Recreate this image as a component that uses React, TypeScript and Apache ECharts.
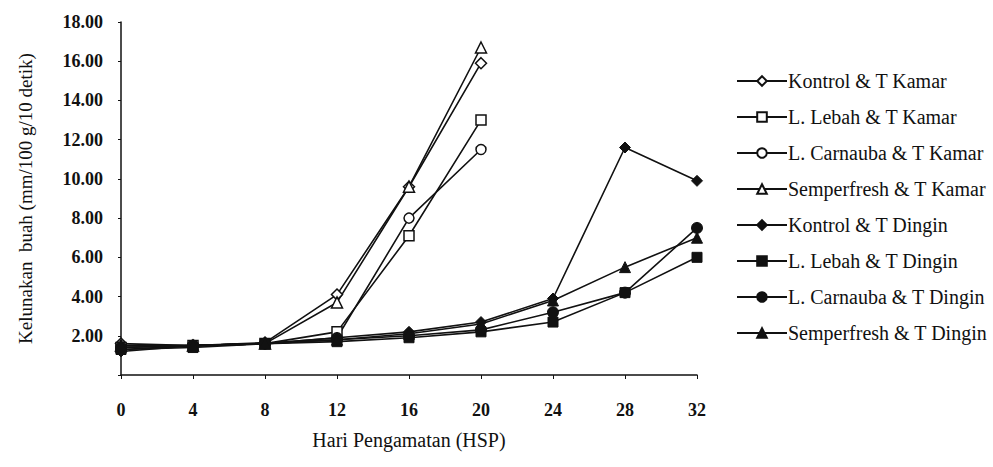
import React, { useEffect, useRef } from "react";
import * as echarts from "echarts";

const days = [0, 4, 8, 12, 16, 20, 24, 28, 32];
const yTicks = [0, 2, 4, 6, 8, 10, 12, 14, 16, 18];

const kontrolKamar = [1.6, 1.5, 1.65, 4.1, 9.6, 15.9];
const lebahKamar = [1.4, 1.5, 1.6, 2.2, 7.1, 13.0];
const carnaubaKamar = [1.3, 1.5, 1.6, 1.9, 8.0, 11.5];
const semperKamar = [1.5, 1.5, 1.6, 3.7, 9.6, 16.7];
const kontrolDingin = [1.2, 1.5, 1.6, 1.9, 2.2, 2.7, 3.9, 11.6, 9.9];
const lebahDingin = [1.3, 1.4, 1.6, 1.7, 1.9, 2.2, 2.7, 4.2, 6.0];
const carnaubaDingin = [1.4, 1.5, 1.6, 1.8, 2.0, 2.3, 3.2, 4.2, 7.5];
const semperDingin = [1.5, 1.5, 1.6, 1.8, 2.1, 2.6, 3.8, 5.5, 7.0];

const seriesDefs = [
  { name: "Kontrol & T Kamar", data: kontrolKamar, symbol: "diamond", open: true, size: 11 },
  { name: "L. Lebah & T Kamar", data: lebahKamar, symbol: "rect", open: true, size: 10 },
  { name: "L. Carnauba & T Kamar", data: carnaubaKamar, symbol: "circle", open: true, size: 10 },
  { name: "Semperfresh & T Kamar", data: semperKamar, symbol: "triangle", open: true, size: 11 },
  { name: "Kontrol & T Dingin", data: kontrolDingin, symbol: "diamond", open: false, size: 11 },
  { name: "L. Lebah & T Dingin", data: lebahDingin, symbol: "rect", open: false, size: 10 },
  { name: "L. Carnauba & T Dingin", data: carnaubaDingin, symbol: "circle", open: false, size: 11 },
  { name: "Semperfresh & T Dingin", data: semperDingin, symbol: "triangle", open: false, size: 11 },
];

const FONT = "Liberation Serif";
const INK = "#111";

export default function App() {
  const ref = useRef<HTMLDivElement>(null);
  useEffect(() => {
    if (!ref.current) return;
    const chart = echarts.init(ref.current, null, { renderer: "svg" });
    chart.setOption({
      animation: false,
      backgroundColor: "#ffffff",
      grid: { left: 121, right: 296, top: 22, bottom: 92 },
      legend: {
        orient: "vertical",
        left: 736,
        top: 71,
        padding: 0,
        itemWidth: 50,
        itemHeight: 12,
        itemGap: 16,
        textStyle: { fontFamily: FONT, fontSize: 20, color: INK, padding: [0, 0, 0, -4] },
        data: seriesDefs.map((s) => s.name),
      },
      xAxis: {
        type: "value",
        min: 0,
        max: 32,
        interval: 4,
        name: "Hari Pengamatan (HSP)",
        nameLocation: "middle",
        nameGap: 55,
        nameTextStyle: { fontFamily: FONT, fontSize: 20, color: INK },
        axisLine: { lineStyle: { color: INK, width: 1.5 } },
        axisTick: { show: true, inside: false, length: 4, lineStyle: { color: INK } },
        axisLabel: {
          fontFamily: FONT,
          fontSize: 18,
          fontWeight: "bold",
          color: INK,
          margin: 26,
          formatter: (v: number) => (days.includes(v) ? String(v) : ""),
        },
        splitLine: { show: false },
      },
      yAxis: {
        type: "value",
        min: 0,
        max: 18,
        interval: 2,
        name: "Kelunakan  buah (mm/100 g/10 detik)",
        nameLocation: "middle",
        nameGap: 86,
        nameTextStyle: { fontFamily: FONT, fontSize: 19, color: INK },
        axisLine: { show: true, lineStyle: { color: INK, width: 1.5 } },
        axisTick: { show: true, inside: false, length: 3, lineStyle: { color: INK } },
        axisLabel: {
          fontFamily: FONT,
          fontSize: 18,
          fontWeight: "bold",
          color: INK,
          margin: 18,
          formatter: (v: number) => (yTicks.includes(v) && v !== 0 ? v.toFixed(2) : ""),
        },
        splitLine: { show: false },
      },
      series: seriesDefs.map((s) => ({
        name: s.name,
        type: "line",
        data: s.data.map((v, i) => [days[i], v]),
        symbol: s.symbol,
        symbolSize: s.size,
        showAllSymbol: true,
        lineStyle: { color: INK, width: 1.6 },
        itemStyle: s.open
          ? { color: "#ffffff", borderColor: INK, borderWidth: 1.5 }
          : { color: INK, borderColor: INK, borderWidth: 1 },
        emphasis: { disabled: true },
      })),
    });
    return () => chart.dispose();
  }, []);
  return (
    <div
      ref={ref}
      style={{ position: "absolute", left: 0, top: 0, width: 993, height: 467 }}
    />
  );
}
